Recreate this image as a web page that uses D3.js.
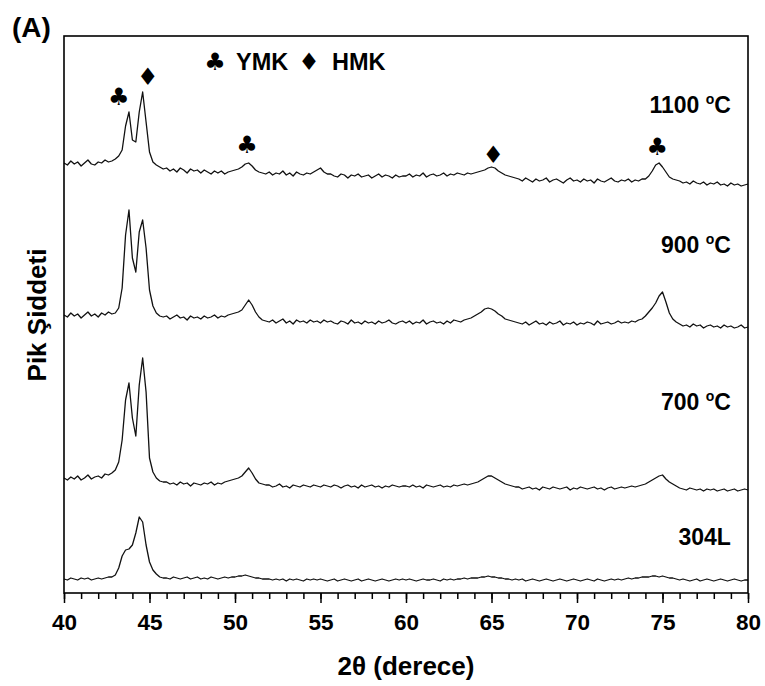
<!DOCTYPE html>
<html>
<head>
<meta charset="utf-8">
<script src="https://cdn.jsdelivr.net/npm/d3@7"></script>
<style>
body { margin: 0; background: #fff; }
text { font-family: "Liberation Sans", Arial, sans-serif; font-weight: bold; fill: #000; }
.sym { font-family: "DejaVu Sans", sans-serif; font-weight: normal; }
</style>
</head>
<body>
<svg class="chart"></svg>
<script>
// 2theta grid, 0.2 deg step
var twoTheta = d3.range(201).map(i => +(40 + i * 0.2).toFixed(1));
var majorTicks = [40, 45, 50, 55, 60, 65, 70, 75, 80];
var minorTicks = d3.range(40, 81, 1);

// intensities (a.u., already offset/stacked as in the figure)
var int1100 = [
  4300, 4280, 4320, 4290, 4310, 4270, 4300, 4330, 4290, 4280, 4310, 4300, 4330, 4310, 4320,
  4340, 4370, 4430, 4670, 4810, 4530, 4510, 4810, 5010, 4710, 4410, 4310, 4280, 4260, 4240,
  4250, 4220, 4240, 4210, 4250, 4230, 4200, 4240, 4220, 4230, 4200, 4230, 4210, 4190, 4220, 4200, 4220, 4190, 4210, 4220,
  4230, 4240, 4260, 4290, 4300, 4270, 4230, 4210, 4200, 4190,
  4210, 4180, 4200, 4190, 4220, 4180, 4200, 4170, 4210, 4190, 4180, 4200, 4190, 4210,
  4230, 4250, 4210, 4190,
  4190, 4170, 4160, 4190, 4180, 4150, 4180, 4170, 4190, 4160, 4170, 4180, 4150, 4170, 4190, 4160, 4180, 4170, 4150, 4180, 4160, 4170,
  4170, 4190, 4160, 4180, 4170, 4200, 4160, 4180, 4190, 4170, 4180, 4200, 4170, 4190, 4180, 4200, 4190, 4180, 4200, 4190,
  4200, 4210, 4220, 4230, 4250, 4260, 4250, 4220, 4200, 4180, 4170, 4160, 4150,
  4140, 4120, 4150, 4130, 4110, 4140, 4120, 4130, 4150, 4110, 4130, 4140, 4120, 4100, 4130, 4150, 4120, 4130, 4110, 4140, 4120, 4130, 4100, 4140, 4120, 4110, 4130, 4150, 4120, 4110, 4130, 4120, 4140, 4110, 4130, 4120, 4140,
  4140, 4170, 4220, 4280, 4300, 4260, 4210, 4160, 4140, 4130,
  4120, 4100, 4110, 4090, 4120, 4100, 4090, 4110, 4080, 4100, 4090, 4110, 4080, 4090, 4070, 4100, 4080, 4090, 4070, 4080, 4090
];
var int900 = [
  2780, 2760, 2800, 2770, 2790, 2750, 2780, 2810, 2770, 2790, 2760, 2800, 2780, 2810, 2790,
  2800, 2850, 3050, 3580, 3830, 3350, 3210, 3610, 3730, 3450, 3030, 2870, 2800, 2770, 2760,
  2770, 2740, 2760, 2780, 2750, 2760, 2730, 2770, 2750, 2760, 2740, 2770, 2750, 2760, 2780, 2750, 2770, 2760, 2780, 2790,
  2800, 2810, 2830, 2880, 2930, 2880, 2810, 2760, 2730, 2720,
  2710, 2730, 2700, 2720, 2740, 2700, 2720, 2690, 2730, 2710, 2720, 2700, 2730, 2710,
  2720, 2700, 2730, 2710,
  2720, 2700, 2690, 2720, 2710, 2690, 2730, 2700, 2710, 2690, 2720, 2700, 2710, 2690, 2720, 2700, 2710, 2730, 2700, 2690, 2710, 2720,
  2700, 2720, 2690, 2710, 2700, 2730, 2690, 2710, 2720, 2700, 2710, 2690, 2720, 2700, 2730, 2720, 2710, 2730, 2740, 2750,
  2770, 2790, 2810, 2840, 2850, 2840, 2820, 2790, 2770, 2740, 2730, 2720, 2710,
  2700, 2690, 2710, 2680, 2700, 2720, 2690, 2700, 2680, 2710, 2690, 2700, 2720, 2680, 2700, 2690, 2710, 2680, 2700, 2690, 2710, 2700, 2680, 2720, 2690, 2700, 2710, 2690, 2700, 2720, 2700, 2710, 2700, 2720, 2710, 2730, 2740,
  2770, 2810, 2850, 2900, 2970, 3010, 2910, 2800, 2740, 2710,
  2690, 2670, 2680, 2660, 2690, 2670, 2680, 2650, 2670, 2680, 2660, 2670, 2650, 2680, 2660, 2670, 2650, 2660, 2680, 2650, 2660
];
var int700 = [
  1150, 1130, 1160, 1140, 1170, 1130, 1150, 1180, 1140, 1160, 1170, 1150, 1190, 1180, 1200,
  1230, 1310, 1530, 1930, 2100, 1750, 1570, 2080, 2350, 2010, 1350, 1210, 1150, 1120, 1110,
  1110, 1090, 1100, 1080, 1110, 1090, 1100, 1070, 1100, 1090, 1080, 1100, 1090, 1110, 1080, 1100, 1090, 1110, 1120, 1130,
  1140, 1150, 1170, 1210, 1250, 1200, 1140, 1100, 1090, 1080,
  1080, 1060, 1070, 1090, 1060, 1070, 1050, 1080, 1070, 1060, 1080, 1070, 1060, 1080,
  1070, 1060, 1080, 1070,
  1060, 1080, 1070, 1050, 1070, 1080, 1060, 1070, 1050, 1080, 1060, 1070, 1080, 1060, 1070, 1050, 1070, 1060, 1080, 1070, 1060, 1070,
  1070, 1060, 1080, 1060, 1070, 1050, 1080, 1070, 1060, 1070, 1080, 1060, 1070, 1060, 1080, 1070, 1080, 1090, 1080, 1090,
  1100, 1110, 1130, 1150, 1170, 1170, 1150, 1130, 1110, 1090, 1080, 1070, 1060,
  1060, 1040, 1050, 1060, 1040, 1050, 1030, 1060, 1050, 1040, 1060, 1050, 1040, 1050, 1060, 1030, 1050, 1040, 1060, 1050, 1040, 1050, 1060, 1040, 1050, 1030, 1050, 1060, 1040, 1050, 1060, 1050, 1060, 1070, 1060, 1070, 1080,
  1090, 1110, 1130, 1150, 1170, 1180, 1140, 1110, 1090, 1070,
  1050, 1040, 1030, 1050, 1040, 1030, 1040, 1020, 1040, 1030, 1040, 1020, 1030, 1040, 1020, 1030, 1040, 1020, 1030, 1040, 1030
];
var int304L = [
  140, 130, 150, 140, 130, 150, 140, 150, 130, 140, 150, 140, 150, 160, 160,
  180, 250, 370, 430, 440, 480, 600, 760, 710, 480, 310, 230, 190, 160, 150,
  150, 140, 160, 150, 140, 150, 160, 140, 150, 160, 140, 150, 140, 160, 150, 140, 150, 160, 150, 160,
  160, 170, 170, 180, 170, 160, 150, 150, 140, 140,
  140, 130, 140, 130, 140, 120, 140, 130, 140, 130, 120, 140, 130, 140,
  130, 140, 130, 120,
  130, 140, 120, 130, 140, 130, 120, 130, 140, 120, 130, 140, 130, 120, 130, 140, 130, 120, 130, 140, 130, 140,
  130, 140, 130, 120, 130, 140, 130, 130, 140, 130, 120, 140, 130, 140, 130, 140, 140, 150, 140, 150,
  150, 150, 160, 160, 170, 160, 160, 150, 150, 140, 140, 130, 140,
  130, 140, 120, 130, 140, 130, 120, 130, 140, 130, 120, 130, 140, 130, 120, 130, 140, 130, 120, 130, 140, 130, 120, 140, 130, 120, 130, 140, 130, 140, 130, 140, 150, 140, 150, 150, 160,
  160, 160, 170, 170, 160, 170, 160, 150, 150, 140,
  130, 140, 130, 120, 130, 140, 120, 130, 140, 130, 120, 130, 140, 130, 120, 130, 140, 130, 120, 130, 130
];

var sampleNames = ["1100", "900", "700", "304L"];
var sampleDegree = [true, true, true, false];
var labelLevel = [4800, 3400, 1830, 480];   // intensity level of each curve label

// phase markers on the 1100 pattern
var markerTheta = [43.2, 44.9, 50.7, 65.1, 74.7];
var markerLevel = [4960, 5160, 4480, 4380, 4460];
var markerPhase = ["YMK", "HMK", "YMK", "HMK", "YMK"];
var phaseSymbol = {YMK: "\u2663", HMK: "\u2666"};

var margin = {top: 36, right: 17, bottom: 93, left: 64},
    width = 765 - margin.left - margin.right,
    height = 686 - margin.top - margin.bottom;

var x = d3.scaleLinear().domain([40, 80]).range([0, width]);
var y = d3.scaleLinear().domain([0, 5570]).range([height, 0]);

var svg = d3.select(".chart")
    .attr("width", width + margin.left + margin.right)
    .attr("height", height + margin.top + margin.bottom);

var chart = svg.append("g")
    .attr("transform", "translate(" + margin.left + "," + margin.top + ")");

// minor ticks
chart.append("g")
    .attr("transform", "translate(0," + height + ")")
    .call(d3.axisBottom(x).tickValues(minorTicks).tickSize(6).tickFormat(""))
    .call(g => g.select(".domain").remove())
    .selectAll("line").attr("stroke-width", 1.5);

// major ticks + labels
var xAxis = chart.append("g")
    .attr("transform", "translate(0," + height + ")")
    .call(d3.axisBottom(x).tickValues(majorTicks).tickSize(10).tickPadding(11).tickFormat(d3.format("d")))
    .call(g => g.select(".domain").remove());
xAxis.selectAll("line").attr("stroke-width", 1.5);
xAxis.selectAll("text")
    .attr("fill", "#000")
    .style("font-size", "22.5px")
    .style("font-family", "'Liberation Sans', Arial, sans-serif")
    .style("font-weight", "bold");

var line = d3.line()
    .x((d, i) => x(twoTheta[i]))
    .y(d => y(d));

[int1100, int900, int700, int304L].forEach(function(series) {
  chart.append("path")
      .datum(series)
      .attr("fill", "none")
      .attr("stroke", "#111")
      .attr("stroke-width", 1.3)
      .attr("stroke-linejoin", "round")
      .attr("d", line);
});

// frame
chart.append("rect")
    .attr("width", width)
    .attr("height", height)
    .attr("fill", "none")
    .attr("stroke", "#000")
    .attr("stroke-width", 1.6);

// curve labels
sampleNames.forEach(function(name, i) {
  var t = chart.append("text")
      .attr("x", x(79))
      .attr("y", y(labelLevel[i]))
      .attr("text-anchor", "end")
      .style("font-size", "23px")
      .text(name);
  if (sampleDegree[i]) {
    t.append("tspan").text(" ");
    t.append("tspan").attr("dy", -9).style("font-size", "14px").text("o");
    t.append("tspan").attr("dy", 9).text("C");
  }
});

// peak markers
chart.selectAll(".marker")
    .data(markerTheta)
  .enter().append("text")
    .attr("class", "sym")
    .attr("x", d => x(d))
    .attr("y", (d, i) => y(markerLevel[i]))
    .attr("text-anchor", "middle")
    .attr("dominant-baseline", "central")
    .style("font-size", "24px")
    .text((d, i) => phaseSymbol[markerPhase[i]]);

// legend
var legend = svg.append("g").attr("transform", "translate(215,62)");
legend.append("text").attr("class", "sym").attr("x", 0).attr("y", 0)
    .attr("text-anchor", "middle").attr("dominant-baseline", "central")
    .style("font-size", "24px").text(phaseSymbol.YMK);
legend.append("text").attr("x", 21).attr("y", 8).style("font-size", "23.5px").text("YMK");
legend.append("text").attr("class", "sym").attr("x", 94).attr("y", 0)
    .attr("text-anchor", "middle").attr("dominant-baseline", "central")
    .style("font-size", "24px").text(phaseSymbol.HMK);
legend.append("text").attr("x", 117).attr("y", 8).style("font-size", "23.5px").text("HMK");

// axis titles
chart.append("text")
    .attr("x", width / 2)
    .attr("y", height + 82)
    .attr("text-anchor", "middle")
    .style("font-size", "26px")
    .text("2\u03b8 (derece)");

chart.append("text")
    .attr("transform", "rotate(-90)")
    .attr("y", -18)
    .attr("x", -(315 - margin.top))
    .attr("text-anchor", "middle")
    .style("font-size", "26px")
    .text("Pik \u015eiddeti");

svg.append("text")
    .attr("x", 12)
    .attr("y", 37)
    .style("font-size", "28px")
    .text("(A)");
</script>
</body>
</html>
